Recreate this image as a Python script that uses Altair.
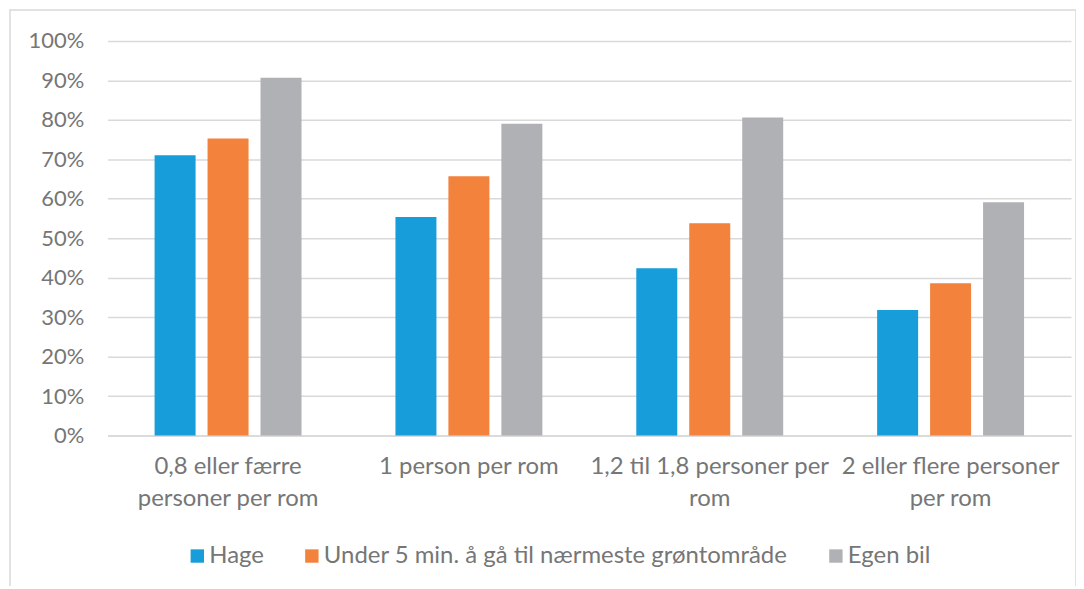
import altair as alt
import pandas as pd

categories = [
    "0,8 eller færre\npersoner per rom",
    "1 person per rom",
    "1,2 til 1,8 personer per\nrom",
    "2 eller flere personer\nper rom",
]
series = ["Hage", "Under 5 min. å gå til nærmeste grøntområde", "Egen bil"]
hage = [71.0, 55.4, 42.4, 31.8]
gront = [75.3, 65.7, 53.8, 38.6]
bil = [90.7, 79.0, 80.6, 59.1]
colors = ["#179dd9", "#f2823c", "#b0b1b4"]

rows = []
for i, c in enumerate(categories):
    for s, vals in zip(series, [hage, gront, bil]):
        rows.append({"kategori": c, "serie": s, "verdi": vals[i] / 100})
df = pd.DataFrame(rows)

FONT = "Lato"
TXT = "#767676"

bars = alt.Chart(df).mark_bar().encode(
    x=alt.X("kategori:N", sort=categories, title=None,
            scale=alt.Scale(paddingInner=0.39, paddingOuter=0.195),
            axis=alt.Axis(labelAngle=0, labelExpr="split(datum.label, '\\n')",
                          labelFontSize=24, labelColor=TXT, labelFont=FONT,
                          labelLineHeight=32, labelPadding=19, ticks=False,
                          labelLimit=0,
                          domainColor="#d9d9d9", domainWidth=1.5,
                          labelBaseline="top")),
    xOffset=alt.XOffset("serie:N", sort=series,
                        scale=alt.Scale(paddingInner=0.226, paddingOuter=0)),
    y=alt.Y("verdi:Q", title=None,
            scale=alt.Scale(domain=[0, 1]),
            axis=alt.Axis(format=".0%", values=[i / 10 for i in range(11)],
                          labelFontSize=22, labelColor=TXT, labelFont=FONT,
                          labelPadding=24, ticks=False, domain=False,
                          gridColor="#d9d9d9", gridWidth=1.5)),
    color=alt.Color("serie:N", sort=series,
                    scale=alt.Scale(domain=series, range=colors),
                    legend=alt.Legend(title=None, orient="none", direction="horizontal",
                                      legendX=78, legendY=505,
                                      symbolType="square", symbolSize=180,
                                      symbolStrokeWidth=0, labelLimit=0,
                                      labelFontSize=24, labelColor=TXT, labelFont=FONT,
                                      columnPadding=36, labelOffset=0)),
)

frame = alt.Chart(pd.DataFrame({"a": [0]})).mark_rect(
    fill=None, stroke="#d9d9d9", strokeWidth=1.5
).encode(x=alt.value(-98), x2=alt.value(972), y=alt.value(-31), y2=alt.value(600))

chart = alt.layer(frame, bars).properties(
    width=967, height=396,
    autosize=alt.AutoSizeParams(type="none"),
    padding={"left": 100, "top": 32, "right": 5, "bottom": 150},
).configure_view(stroke=None)

chart.save("out.html", embed_options={"renderer": "svg", "actions": False})
